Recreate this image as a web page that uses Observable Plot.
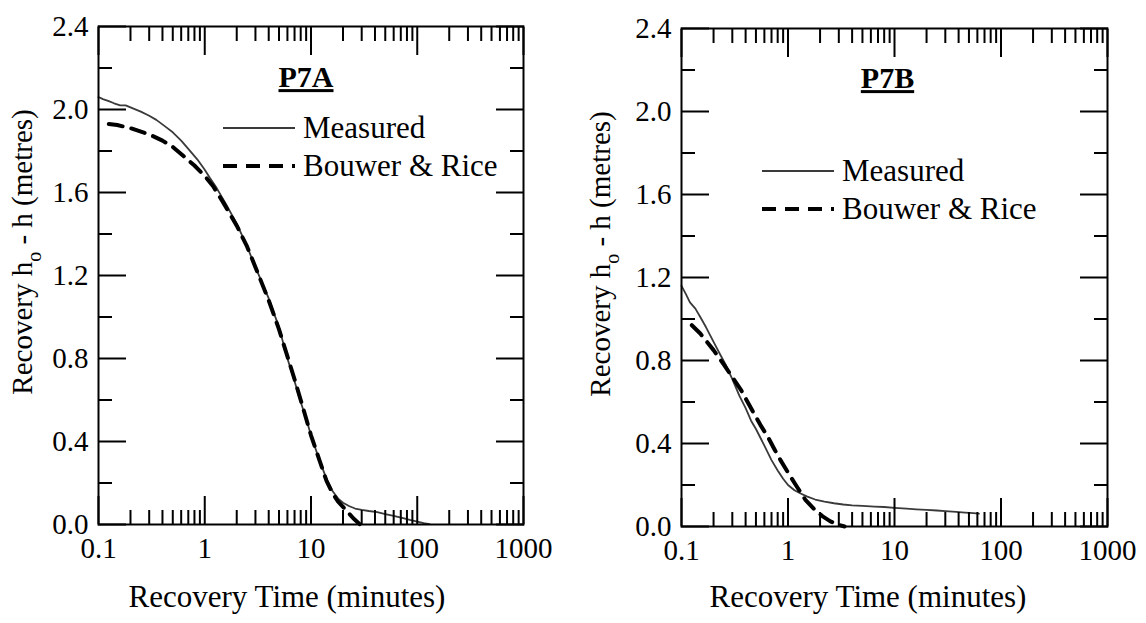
<!DOCTYPE html>
<html>
<head>
<meta charset="utf-8">
<script src="https://cdn.jsdelivr.net/npm/d3@7"></script>
<script src="https://cdn.jsdelivr.net/npm/@observablehq/plot@0.6"></script>
<style>
  html, body { margin: 0; padding: 0; background: #fff; }
  #wrap { display: flex; width: 1146px; height: 623px; overflow: hidden; }
</style>
</head>
<body>
<div id="wrap"></div>
<script>
// ---- Axis ticks -----------------------------------------------------------
const xMajorTicks = [0.1, 1, 10, 100, 1000];
const xTickLabels = ["0.1", "1", "10", "100", "1000"];
const xMinorTicks = [
  0.2, 0.3, 0.4, 0.5, 0.6, 0.7, 0.8, 0.9,
  2, 3, 4, 5, 6, 7, 8, 9,
  20, 30, 40, 50, 60, 70, 80, 90,
  200, 300, 400, 500, 600, 700, 800, 900
];
const yMajorTicks = [0, 0.4, 0.8, 1.2, 1.6, 2.0, 2.4];
const yMinorTicks = [0.2, 0.6, 1.0, 1.4, 1.8, 2.2];

// ---- P7A: recovery time (minutes) and recovery h0 - h (metres) -------------
const p7aMeasuredTime = [0.1, 0.11, 0.125, 0.14, 0.16, 0.18, 0.2, 0.25, 0.3, 0.35, 0.42, 0.5, 0.6, 0.7, 0.85, 1.0, 1.12, 1.3, 1.6, 2.0, 2.5, 3.0, 3.5, 4.0, 5.0, 6.0, 7.0, 8.0, 9.0, 10, 12, 14, 16, 18, 20, 23, 26, 30, 35, 42, 50, 60, 72, 85, 100, 115, 130];
const p7aMeasuredRec  = [2.06, 2.05, 2.04, 2.03, 2.02, 2.02, 2.01, 1.99, 1.97, 1.95, 1.92, 1.89, 1.85, 1.81, 1.76, 1.71, 1.67, 1.62, 1.54, 1.45, 1.34, 1.24, 1.16, 1.09, 0.95, 0.80, 0.69, 0.59, 0.51, 0.43, 0.31, 0.22, 0.16, 0.125, 0.105, 0.088, 0.077, 0.07, 0.065, 0.06, 0.05, 0.042, 0.032, 0.022, 0.014, 0.007, 0.002];
const p7aFitTime = [0.125, 0.15, 0.2, 0.3, 0.4, 0.5, 0.65, 0.8, 1.0, 1.2, 1.5, 2, 2.5, 3, 4, 5, 6, 7, 8, 10, 12, 14, 16, 18, 20, 22, 25, 29];
const p7aFitRec  = [1.93, 1.925, 1.91, 1.88, 1.85, 1.82, 1.77, 1.73, 1.68, 1.63, 1.55, 1.44, 1.34, 1.24, 1.08, 0.94, 0.81, 0.70, 0.60, 0.43, 0.31, 0.21, 0.15, 0.11, 0.085, 0.062, 0.03, 0.0];

// ---- P7B --------------------------------------------------------------------
const p7bMeasuredTime = [0.1, 0.11, 0.12, 0.135, 0.15, 0.17, 0.2, 0.23, 0.26, 0.3, 0.35, 0.4, 0.45, 0.5, 0.6, 0.7, 0.8, 0.9, 1.0, 1.15, 1.3, 1.5, 1.8, 2.2, 2.7, 3.3, 4, 5, 6.5, 8, 10, 13, 16, 20, 25, 30, 38, 46, 55, 62];
const p7bMeasuredRec  = [1.16, 1.12, 1.08, 1.05, 1.01, 0.96, 0.89, 0.83, 0.78, 0.71, 0.63, 0.57, 0.51, 0.47, 0.39, 0.32, 0.27, 0.23, 0.20, 0.175, 0.16, 0.145, 0.13, 0.12, 0.112, 0.106, 0.102, 0.099, 0.096, 0.094, 0.09, 0.086, 0.083, 0.08, 0.077, 0.074, 0.07, 0.067, 0.064, 0.062];
const p7bFitTime = [0.125, 0.15, 0.2, 0.25, 0.3, 0.36, 0.45, 0.55, 0.65, 0.75, 0.85, 1.0, 1.2, 1.45, 1.75, 2.1, 2.5, 3.0, 3.4];
const p7bFitRec  = [0.97, 0.93, 0.85, 0.78, 0.72, 0.66, 0.57, 0.49, 0.43, 0.37, 0.32, 0.26, 0.195, 0.13, 0.085, 0.05, 0.025, 0.008, 0.0];

const seriesNames = ["Measured", "Bouwer & Rice"];
const FONT = '"Liberation Serif", "Times New Roman", Times, serif';

function panel(cfg) {
  const measured = cfg.tm.map((t, i) => ({t, h: cfg.hm[i]}));
  const fit = cfg.tf.map((t, i) => ({t, h: cfg.hf[i]}));
  const tickStyle = {fill: "none", stroke: "#000", strokeWidth: 2, label: null};
  const svgEl = Plot.plot({
    width: 573,
    height: 623,
    marginLeft: cfg.ml, marginRight: cfg.mr, marginTop: cfg.mt, marginBottom: cfg.mb,
    style: {fontFamily: FONT, fontSize: "29px", color: "#000", background: "#fff", overflow: "visible"},
    x: {type: "log", domain: [0.1, 1000]},
    y: {domain: [0, 2.4]},
    marks: [
      Plot.line(measured, {x: "t", y: "h", stroke: "#3a3a3a", strokeWidth: 1.8}),
      Plot.line(fit, {x: "t", y: "h", stroke: "#000", strokeWidth: 4, strokeDasharray: "14,9"}),
      // inward ticks on all four sides
      Plot.axisX(xMajorTicks, {anchor: "bottom", tickSize: -28, ...tickStyle}),
      Plot.axisX(xMinorTicks, {anchor: "bottom", tickSize: -14, ...tickStyle}),
      Plot.axisX(xMajorTicks, {anchor: "top", tickSize: -28, ...tickStyle}),
      Plot.axisX(xMinorTicks, {anchor: "top", tickSize: -14, ...tickStyle}),
      Plot.axisY(yMajorTicks, {anchor: "left", tickSize: -28, ...tickStyle}),
      Plot.axisY(yMinorTicks, {anchor: "left", tickSize: -14, ...tickStyle}),
      Plot.axisY(yMajorTicks, {anchor: "right", tickSize: -28, ...tickStyle}),
      Plot.axisY(yMinorTicks, {anchor: "right", tickSize: -14, ...tickStyle}),
      // tick labels
      Plot.axisX(xMajorTicks, {anchor: "bottom", tickSize: 0, stroke: "none", tickPadding: 13, label: null,
        tickFormat: d => xTickLabels[xMajorTicks.indexOf(d)]}),
      Plot.axisY(yMajorTicks, {anchor: "left", tickSize: 0, stroke: "none", tickPadding: 10, label: null,
        tickFormat: d => d.toFixed(1)}),
      Plot.frame({stroke: "#000", strokeWidth: 2}),
      Plot.text([cfg.title], {frameAnchor: "top", dx: cfg.titleDx, dy: cfg.titleDy, lineAnchor: "middle",
        fontWeight: "bold", fontSize: 30, fill: "#000"})
    ]
  });

  const svg = d3.select(svgEl);
  svg.selectAll("text").filter(function () { return this.textContent === cfg.title; })
    .attr("text-decoration", "underline");

  // y-axis label with subscript
  const yl = svg.append("text")
    .attr("transform", `translate(${cfg.ylabX},${cfg.ylabY}) rotate(-90)`)
    .attr("text-anchor", "middle")
    .attr("font-size", 29)
    .attr("fill", "#000");
  yl.append("tspan").text("Recovery h");
  yl.append("tspan").attr("dy", 9).attr("font-size", 20).text("o");
  yl.append("tspan").attr("dy", -9).text(" - h (metres)");

  // x-axis title
  svg.append("text")
    .attr("x", cfg.xlabX).attr("y", 607)
    .attr("text-anchor", "middle")
    .attr("font-size", 31)
    .attr("fill", "#000")
    .text("Recovery Time (minutes)");

  // legend
  const lg = svg.append("g").attr("text-anchor", "start");
  seriesNames.forEach((name, i) => {
    const y = cfg.legY[i];
    lg.append("line")
      .attr("x1", cfg.legX1).attr("x2", cfg.legX2).attr("y1", y).attr("y2", y)
      .attr("stroke", i === 0 ? "#3a3a3a" : "#000")
      .attr("stroke-width", i === 0 ? 1.8 : 4)
      .attr("stroke-dasharray", i === 0 ? null : "14,9");
    lg.append("text")
      .attr("x", cfg.legText).attr("y", y).attr("dy", "0.33em")
      .attr("text-anchor", "start")
      .attr("font-size", 31).attr("fill", "#000")
      .text(name);
  });
  return svgEl;
}

const wrap = document.getElementById("wrap");
wrap.appendChild(panel({
  title: "P7A", tm: p7aMeasuredTime, hm: p7aMeasuredRec, tf: p7aFitTime, hf: p7aFitRec,
  ml: 98, mr: 50, mt: 26, mb: 99,
  titleDx: -5, titleDy: 51,
  ylabX: 32, ylabY: 252, xlabX: 287,
  legX1: 223, legX2: 295, legText: 303, legY: [128, 166]
}));
wrap.appendChild(panel({
  title: "P7B", tm: p7bMeasuredTime, hm: p7bMeasuredRec, tf: p7bFitTime, hf: p7bFitRec,
  ml: 108, mr: 39, mt: 28, mb: 97,
  titleDx: -7, titleDy: 50,
  ylabX: 37, ylabY: 254, xlabX: 295,
  legX1: 189, legX2: 261, legText: 269, legY: [171, 209]
}));
</script>
</body>
</html>
